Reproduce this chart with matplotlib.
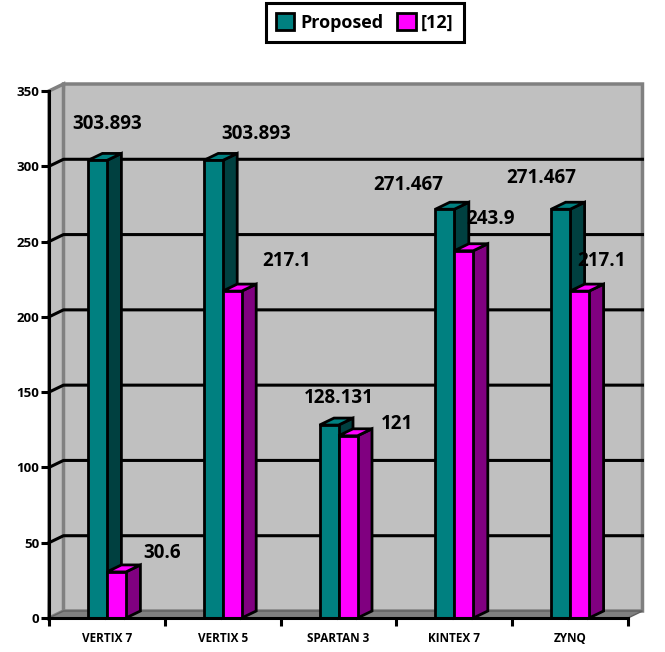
import matplotlib
matplotlib.use('Agg')
import matplotlib.pyplot as plt
from matplotlib.patches import Polygon, Patch

# values
categories = ['VERTIX 7', 'VERTIX 5', 'SPARTAN 3', 'KINTEX 7', 'ZYNQ']
proposed = [303.893, 303.893, 128.131, 271.467, 271.467]
ref12 = [30.6, 217.1, 121, 243.9, 217.1]
yticks = [0, 50, 100, 150, 200, 250, 300, 350]

W, H = 665, 652
plt.rcParams['font.family'] = ['Open Sans', 'DejaVu Sans']
plt.rcParams['font.weight'] = 'bold'

fig = plt.figure(figsize=(W / 100, H / 100), dpi=100)
ax = fig.add_axes([49 / W, 1 - 618 / H, 579 / W, 527 / H])
ax.set_xlim(0, 5)
ax.set_ylim(0, 350)

# depth of the fake 3D box, pixels -> data units
dx = 14.5 * 5 / 579
dy = 7 * 350 / 527
bar_w = 19 * 5 / 579

wall = '#c0c0c0'
gray = '#808080'


def poly(pts, face, edge='black', lw=2, z=2):
    ax.add_patch(Polygon(pts, closed=True, facecolor=face, edgecolor=edge,
                         linewidth=lw, zorder=z, clip_on=False, joinstyle='miter'))


# walls and floor
poly([(0, 0), (dx, dy), (5 + dx, dy), (5 + dx, 350 + dy), (dx, 350 + dy)], wall, gray, 2.5, 1)
poly([(0, 0), (dx, dy), (dx, 350 + dy), (0, 350)], wall, gray, 2.5, 1)
poly([(0, 0), (dx, dy), (5 + dx, dy), (5, 0)], gray, '#606060', 1, 1.1)

# gridlines run along the side wall then the back wall
for v in yticks[1:-1]:
    ax.plot([0, dx, 5 + dx], [v, v + dy, v + dy], color='black', lw=2.2, zorder=1.5, clip_on=False)


def bar3d(x, v, front, side, z):
    poly([(x + bar_w, 0), (x + bar_w + dx, dy), (x + bar_w + dx, v + dy), (x + bar_w, v)], side, z=z)
    poly([(x, v), (x + dx, v + dy), (x + bar_w + dx, v + dy), (x + bar_w, v)], front, z=z)
    poly([(x, 0), (x + bar_w, 0), (x + bar_w, v), (x, v)], front, z=z + 0.1)


for i in range(len(categories)):
    c = i + 0.5
    bar3d(c - bar_w, proposed[i], '#008080', '#004040', 3 + i)
    bar3d(c, ref12[i], '#ff00ff', '#800080', 3.5 + i)

# value labels, offsets in points from the top of each bar
offs_a = [(7, 19), (31, 11.5), (7, 12.5), (-26, 10.5), (-14, 15.5)]
offs_b = [(33, 6.5), (39, 14.5), (35, 1.5), (19, 15.5), (16, 14.5)]
for i in range(len(categories)):
    c = i + 0.5
    ax.annotate(f'{proposed[i]:g}', (c - bar_w / 2, proposed[i]), xytext=offs_a[i], textcoords='offset points',
                ha='center', va='bottom', fontsize=13.5, zorder=20, annotation_clip=False)
    ax.annotate(f'{ref12[i]:g}', (c + bar_w / 2, ref12[i]), xytext=offs_b[i], textcoords='offset points',
                ha='center', va='bottom', fontsize=13.5, zorder=20, annotation_clip=False)

# axes
for s in ['top', 'right']:
    ax.spines[s].set_visible(False)
for s in ['left', 'bottom']:
    ax.spines[s].set_linewidth(2.2)
    ax.spines[s].set_zorder(15)
ax.patch.set_visible(False)
ax.set_yticks(yticks)
ax.set_yticklabels([str(v) for v in yticks], fontsize=9.5)
ax.set_xticks(range(6))
ax.set_xticklabels([])
ax.set_xticks([i + 0.5 for i in range(5)], minor=True)
ax.set_xticklabels(categories, minor=True, fontsize=8.5)
ax.tick_params(axis='y', length=6, width=2.2, pad=1)
ax.tick_params(axis='x', which='major', length=5.5, width=2.2)
ax.tick_params(axis='x', which='minor', length=0, pad=10)

handles = [Patch(facecolor='#008080', edgecolor='black', linewidth=2),
           Patch(facecolor='#ff00ff', edgecolor='black', linewidth=2)]
leg = fig.legend(handles, ['Proposed', '[12]'], ncol=2, loc='center',
                 bbox_to_anchor=(365 / W, 1 - 22.5 / H), fontsize=13, frameon=True, fancybox=False,
                 edgecolor='black', framealpha=1, handlelength=1, handleheight=1,
                 handletextpad=0.3, columnspacing=0.8, borderpad=0.6)
leg.get_frame().set_linewidth(2.2)

fig.savefig('out.png', dpi=100)
